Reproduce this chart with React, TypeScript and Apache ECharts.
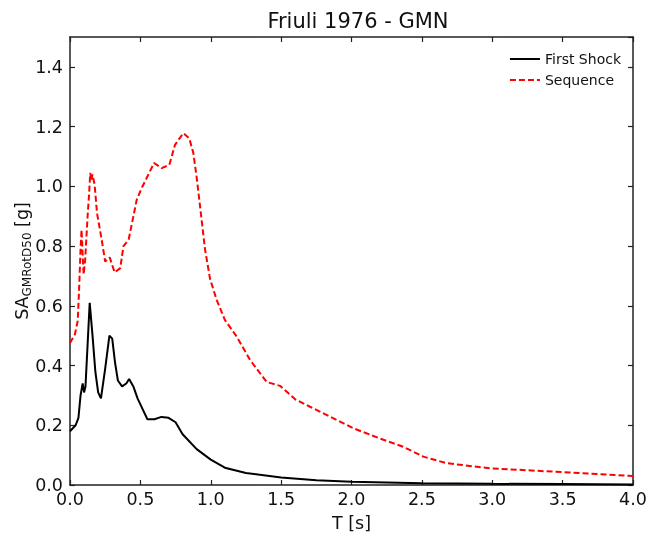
import React, { useEffect, useRef } from "react";
import * as echarts from "echarts";

const FONT = "DejaVu Sans";

const titleText = "Friuli 1976 - GMN";
const xTickValues = [0, 0.5, 1, 1.5, 2, 2.5, 3, 3.5, 4];
const yTickValues = [0, 0.2, 0.4, 0.6, 0.8, 1.0, 1.2, 1.4];

const shockT = [0, 0.02, 0.04, 0.06, 0.075, 0.09, 0.1, 0.11, 0.125, 0.14, 0.16, 0.18, 0.2, 0.22, 0.25, 0.28, 0.3, 0.32, 0.34, 0.37, 0.4, 0.42, 0.45, 0.48, 0.52, 0.55, 0.6, 0.65, 0.7, 0.75, 0.8, 0.9, 1.0, 1.1, 1.25, 1.5, 1.75, 2.0, 2.5, 3.0, 3.5, 4.0];
const shockSA = [0.18, 0.19, 0.2, 0.225, 0.3, 0.34, 0.31, 0.33, 0.47, 0.61, 0.5, 0.38, 0.31, 0.29, 0.39, 0.5, 0.49, 0.41, 0.35, 0.33, 0.34, 0.355, 0.33, 0.29, 0.25, 0.22, 0.22, 0.228, 0.225, 0.21, 0.17, 0.12, 0.085, 0.058, 0.04, 0.025, 0.016, 0.011, 0.006, 0.004, 0.003, 0.002];

const seqT = [0, 0.035, 0.055, 0.065, 0.075, 0.082, 0.09, 0.097, 0.108, 0.125, 0.135, 0.144, 0.151, 0.16, 0.175, 0.192, 0.222, 0.25, 0.282, 0.317, 0.357, 0.38, 0.417, 0.474, 0.509, 0.597, 0.651, 0.706, 0.746, 0.805, 0.848, 0.876, 0.9, 0.924, 0.959, 0.995, 1.042, 1.1, 1.184, 1.279, 1.397, 1.492, 1.6, 1.705, 2.013, 2.2, 2.368, 2.51, 2.676, 2.984, 3.5, 4.0];
const seqSA = [0.475, 0.505, 0.55, 0.66, 0.79, 0.855, 0.77, 0.705, 0.755, 0.9, 0.97, 1.045, 1.02, 1.04, 1.005, 0.91, 0.83, 0.748, 0.762, 0.712, 0.726, 0.8, 0.822, 0.955, 0.994, 1.078, 1.061, 1.072, 1.139, 1.178, 1.16, 1.112, 1.03, 0.933, 0.79, 0.69, 0.62, 0.553, 0.497, 0.419, 0.345, 0.332, 0.287, 0.262, 0.19, 0.156, 0.128, 0.095, 0.073, 0.056, 0.043, 0.03];

export default function App() {
  const ref = useRef<HTMLDivElement>(null);
  useEffect(() => {
    if (!ref.current) return;
    const chart = echarts.init(ref.current, undefined, { renderer: "svg" });
    const axisLine = { show: true, onZero: false, lineStyle: { color: "#222", width: 1.5 } };
    const tick = { show: true, inside: true, length: 5, lineStyle: { color: "#222", width: 1.2 } };
    const xBase = { type: "value" as const, min: 0, max: 4, interval: 0.5, splitLine: { show: false }, axisLine, axisTick: tick };
    const yBase = { type: "value" as const, min: 0, max: 1.5, interval: 0.2, splitLine: { show: false }, axisLine, axisTick: tick };
    chart.setOption({
      animation: false,
      textStyle: { fontFamily: FONT },
      title: {
        text: titleText,
        left: 353,
        textAlign: "center",
        top: 5,
        textStyle: { fontFamily: FONT, fontSize: 21, fontWeight: "normal", color: "#111" },
      },
      legend: {
        right: 22,
        top: 47,
        orient: "vertical",
        itemWidth: 30,
        itemHeight: 14,
        itemGap: 7,
        itemStyle: { opacity: 0 },
        textStyle: { fontFamily: FONT, fontSize: 14, color: "#111" },
        data: ["First Shock", "Sequence"],
      },
      grid: { left: 70, right: 15, top: 37, bottom: 53, containLabel: false, outerBoundsMode: "none" },
      xAxis: [
        {
          ...xBase,
          position: "bottom",
          name: "T [s]",
          nameLocation: "middle",
          nameGap: 29,
          nameMoveOverlap: false,
          nameTextStyle: { fontFamily: FONT, fontSize: 17.5, color: "#111" },
          axisLabel: {
            fontFamily: FONT,
            fontSize: 17.5,
            color: "#111",
            margin: 5,
            formatter: (v: number) => (xTickValues.includes(v) ? v.toFixed(1) : ""),
          },
        },
        { ...xBase, position: "top", axisLabel: { show: false } },
      ],
      yAxis: [
        {
          ...yBase,
          position: "left",
          name: "{a|SA}{b|GMRotD50}{a| [g]}",
          nameLocation: "middle",
          nameGap: 35,
          nameMoveOverlap: false,
          nameRotate: 90,
          nameTextStyle: {
            fontFamily: FONT,
            color: "#111",
            rich: {
              a: { fontFamily: FONT, fontSize: 17.5, color: "#111", lineHeight: 26, verticalAlign: "middle" },
              b: { fontFamily: FONT, fontSize: 12, color: "#111", lineHeight: 26, verticalAlign: "bottom", padding: [0, 0, 2, 0] },
            },
          },
          axisLabel: {
            fontFamily: FONT,
            fontSize: 17.5,
            color: "#111",
            margin: 7,
            showMaxLabel: false,
            formatter: (v: number) => (yTickValues.some((t) => Math.abs(t - v) < 1e-6) ? v.toFixed(1) : ""),
          },
        },
        { ...yBase, position: "right", axisLabel: { show: false } },
      ],
      series: [
        {
          name: "First Shock",
          type: "line",
          symbol: "none",
          xAxisIndex: 0,
          yAxisIndex: 0,
          lineStyle: { color: "#000", width: 2 },
          itemStyle: { color: "#000" },
          data: shockT.map((t, i) => [t, shockSA[i]]),
        },
        {
          name: "Sequence",
          type: "line",
          symbol: "none",
          xAxisIndex: 0,
          yAxisIndex: 0,
          lineStyle: { color: "#ff0000", width: 2, type: [6, 3] },
          itemStyle: { color: "#ff0000" },
          data: seqT.map((t, i) => [t, seqSA[i]]),
        },
      ],
    });
    return () => chart.dispose();
  }, []);
  return <div ref={ref} style={{ position: "fixed", left: 0, top: 0, width: 648, height: 538 }} />;
}
